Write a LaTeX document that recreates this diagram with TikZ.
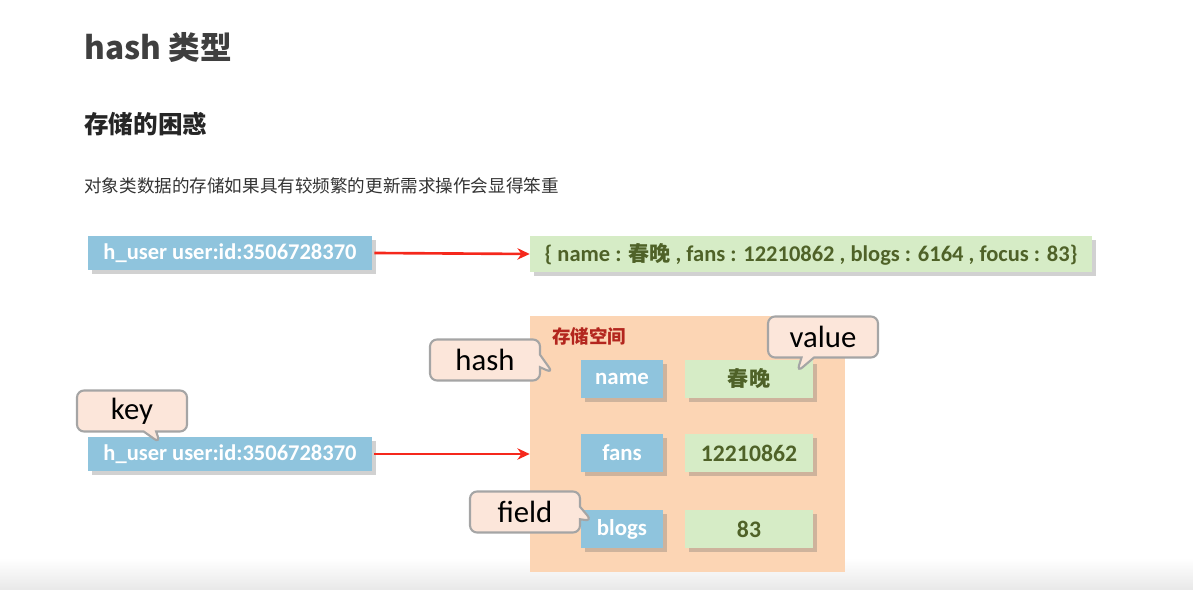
\documentclass[tikz,border=0pt]{standalone}
\usepackage{fontspec}
\setmainfont{Carlito}
\newfontfamily\cjk{Noto Sans CJK SC}
\usetikzlibrary{positioning,shapes.callouts,shadows,arrows.meta}
\definecolor{keyblue}{HTML}{8FC4DD}
\definecolor{valgreen}{HTML}{D6ECC6}
\definecolor{valtext}{HTML}{4F6228}
\definecolor{spacefill}{HTML}{FCD5B4}
\definecolor{spacetext}{HTML}{B3261E}
\definecolor{notefill}{HTML}{FCE6DA}
\definecolor{notedraw}{HTML}{A5A5A5}
\definecolor{linkred}{HTML}{F5281C}
\definecolor{headgray}{HTML}{3F3F3F}
\tikzset{
  boxshadow/.style={drop shadow={shadow xshift=2.5pt, shadow yshift=-2.5pt, opacity=0.3, fill=black!60}},
  keybox/.style={boxshadow, fill=keyblue, text=white, font=\fontsize{12.8}{14}\selectfont\bfseries, inner sep=0pt},
  valbox/.style={boxshadow, fill=valgreen, text=valtext, font=\fontsize{12.8}{14}\selectfont\bfseries, inner sep=0pt},
  fieldbox/.style={keybox, font=\fontsize{13}{14}\selectfont\bfseries, minimum width=1.64cm, minimum height=0.76cm},
  cellbox/.style={valbox, font=\fontsize{13.5}{14}\selectfont\bfseries, minimum width=2.56cm, minimum height=0.76cm},
  note/.style={rectangle callout, rounded corners=4pt, fill=notefill, draw=notedraw, line width=1.2pt,
    minimum width=2.2cm, minimum height=0.82cm, inner sep=0pt, font=\fontsize{17.5}{19}\selectfont},
  link/.style={linkred, line width=1.5pt, -{Stealth[length=7pt,width=6.5pt]}}
}
\begin{document}
\begin{tikzpicture}[x=0.02cm, y=-0.02cm]
  \useasboundingbox (0,0) rectangle (1193,590);
  \shade[top color=white, bottom color=black!9, draw=none] (0,558) rectangle (1193,590);

  % headings
  \node[anchor=west, inner sep=0pt, text=headgray, font=\cjk\fontsize{18}{20}\selectfont\bfseries] (title) at (84,47) {hash 类型};
  \node[anchor=west, inner sep=0pt, text=black!85, font=\cjk\fontsize{14}{16}\selectfont\bfseries] (sub) at (84,124) {存储的困惑};
  \node[anchor=west, inner sep=0pt, text=black!80, font=\cjk\fontsize{10}{12}\selectfont] (desc) at (84,186) {对象类数据的存储如果具有较频繁的更新需求操作会显得笨重};

  % string storage
  \node[keybox, minimum width=5.68cm, minimum height=0.68cm] (key1) at (230,253) {h\_user user:id:3506728370};
  \node[valbox, minimum width=11.24cm, minimum height=0.72cm] (obj) at (811,254)
    {\{ name : {\cjk\fontsize{12}{14}\selectfont 春晚} , fans : 12210862 , blogs : 6164 , focus : 83\}};
  \draw[link] (key1.east) ++(2,0) -- (obj.west);

  % hash storage
  \node[fill=spacefill, minimum width=6.3cm, minimum height=5.12cm, inner sep=0pt] (space) at (687.5,444) {};
  \node[anchor=west, inner sep=0pt, text=spacetext, font=\cjk\fontsize{10.5}{12}\selectfont\bfseries] (spacelbl) at (552,336) {存储空间};

  \node[fieldbox] (fname) at (622,379) {name};
  \node[fieldbox] (ffans) at (622,453) {fans};
  \node[fieldbox] (fblogs) at (622,529) {blogs};
  \node[cellbox, font=\cjk\fontsize{12}{14}\selectfont\bfseries] (vname) at (749,379) {春晚};
  \node[cellbox] (vfans) at (749,453) {12210862};
  \node[cellbox] (vblogs) at (749,529) {83};

  \node[keybox, minimum width=5.68cm, minimum height=0.68cm] (key2) at (230,454) {h\_user user:id:3506728370};
  \draw[link] (key2.east) ++(2,0) -- (key2.east -| space.west);

  % callouts
  \node[note, callout absolute pointer={(553,373)}] (nhash) at (485,360) {hash};
  \node[note, callout absolute pointer={(797,372)}] (nvalue) at (823,337) {value};
  \node[note, callout absolute pointer={(160,443)}] (nkey) at (132,411) {key};
  \node[note, callout absolute pointer={(592,521)}] (nfield) at (525,512) {field};
\end{tikzpicture}
\end{document}
